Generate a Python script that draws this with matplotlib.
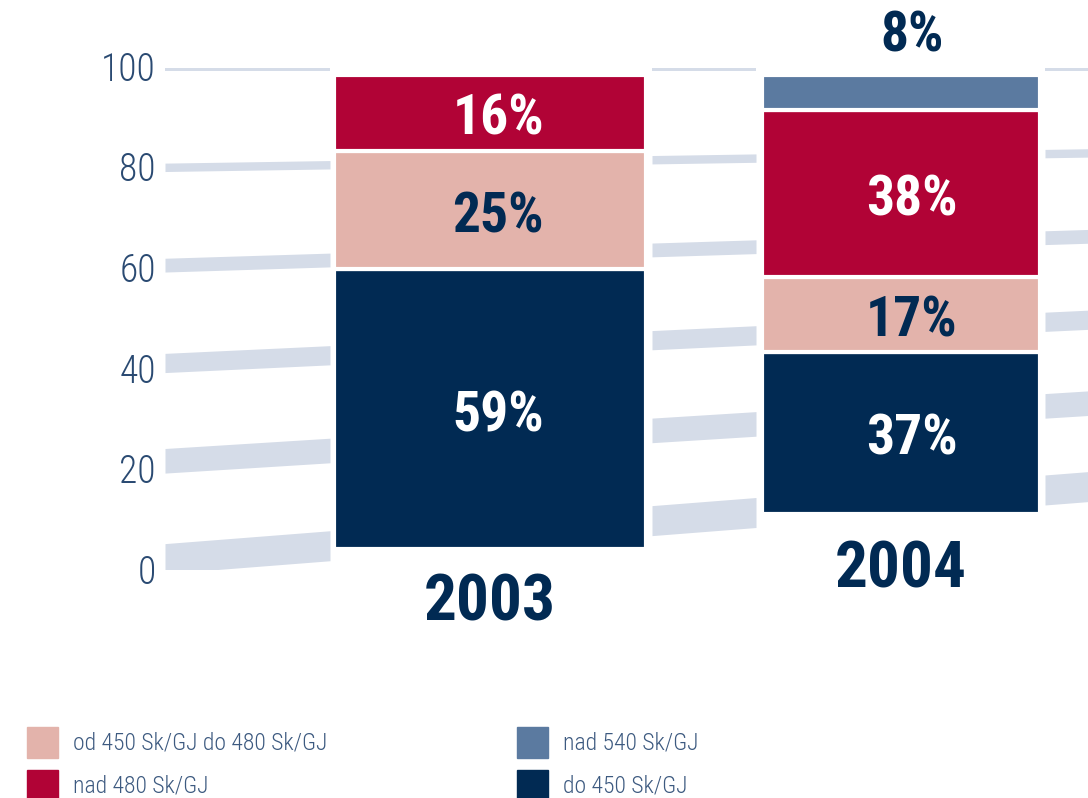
import matplotlib
matplotlib.use('Agg')
import matplotlib.pyplot as plt
import numpy as np

# Data (percent of volume by price band)
years = ['2003', '2004']
band_labels = ['do 450 Sk/GJ', 'od 450 Sk/GJ do 480 Sk/GJ', 'nad 480 Sk/GJ', 'nad 540 Sk/GJ']
share_2003 = [59, 25, 16, 0]
share_2004 = [37, 17, 38, 8]
y_ticks = [0, 20, 40, 60, 80, 100]

band_colors = ['#012a53', '#e3b3ab', '#b10336', '#5b7aa0']
text_colors = ['white', '#012a53', 'white', '#012a53']
navy = '#012a53'
shelf_color = '#d5dce8'
tick_color = '#2a4a72'

cond = ['Roboto Condensed', 'Barlow Condensed', 'Oswald', 'Liberation Sans Narrow', 'DejaVu Sans']
plt.rcParams['font.family'] = cond

W, H = 1088, 798
fig = plt.figure(figsize=(W / 100, H / 100), dpi=100)


def rect(x0, y_top, x1, y_bot):
    # pixel box (origin top-left) -> figure fraction
    return [x0 / W, 1 - y_bot / H, (x1 - x0) / W, (y_bot - y_top) / H]


# Value axis with perspective "shelves" as grid
axy = fig.add_axes(rect(160, 66, W, 569))
axy.set_xlim(160, W)
axy.set_ylim(0, 100)
axy.set_yticks(y_ticks)
axy.set_yticklabels([str(t) for t in y_ticks], fontsize=27, color=tick_color,
                    fontweight='light')
axy.tick_params(axis='y', length=0, pad=3)
axy.set_xticks([])
for s in axy.spines.values():
    s.set_visible(False)

px_per_unit = (569 - 66) / 100
gaps = [(165, 330), (652, 756), (1045, W)]
for v in y_ticks:
    depth = 1 - v / 100
    thick = (3 + 27 * depth) / px_per_unit
    slope = 0.078 * depth / px_per_unit
    base = v - 5 / px_per_unit
    for x0, x1 in gaps:
        xs = np.array([x0, x1])
        bot = base + slope * (xs - 160)
        axy.fill_between(xs, bot, bot + thick, color=shelf_color, lw=0, zorder=1)


def draw_stack(box, values, year, year_offset, label_dx):
    ax = fig.add_axes(box)
    ax.set_xlim(-0.5, 0.5)
    ax.set_ylim(0, 100)
    ax.axis('off')
    bottom = 0
    for val, col, tcol in zip(values, band_colors, text_colors):
        if val <= 0:
            continue
        ax.bar(0, val, width=1, bottom=bottom, color=col, edgecolor='white',
               linewidth=3, zorder=2)
        label = f'{val}%'
        if val < 10:
            ax.annotate(label, xy=(0, bottom + val), xytext=(label_dx, 9),
                        textcoords='offset points', ha='center', va='bottom',
                        fontsize=40, fontweight='bold', color=navy,
                        annotation_clip=False)
        else:
            ax.annotate(label, xy=(0, bottom + val / 2), xytext=(label_dx, -5),
                        textcoords='offset points', ha='center', va='center',
                        fontsize=40, fontweight='bold', color=tcol, zorder=3)
        bottom += val
    ax.annotate(year, xy=(0.5, 0), xycoords='axes fraction',
                xytext=(0, year_offset), textcoords='offset points',
                ha='center', va='center', fontsize=47, fontweight='bold',
                color=navy, annotation_clip=False)


draw_stack(rect(334, 75, 646, 549), share_2003, years[0], -39, 6)
draw_stack(rect(762, 75, 1040, 514), share_2004, years[1], -40, 8)

# Legend
leg = fig.add_axes([0, 0, 1, 1], facecolor='none')
leg.set_xlim(0, W)
leg.set_ylim(H, 0)
leg.axis('off')
legend_items = [(band_labels[1], band_colors[1], 27, 742),
                (band_labels[2], band_colors[2], 27, 785),
                (band_labels[3], band_colors[3], 517, 742),
                (band_labels[0], band_colors[0], 517, 785)]
for text, col, x, y in legend_items:
    leg.add_patch(plt.Rectangle((x, y - 15), 31, 31, color=col))
    leg.text(x + 46, y + 1, text, fontsize=17, color='#3d5a80', va='center',
             fontweight='light')

fig.savefig('out.png', dpi=100)
